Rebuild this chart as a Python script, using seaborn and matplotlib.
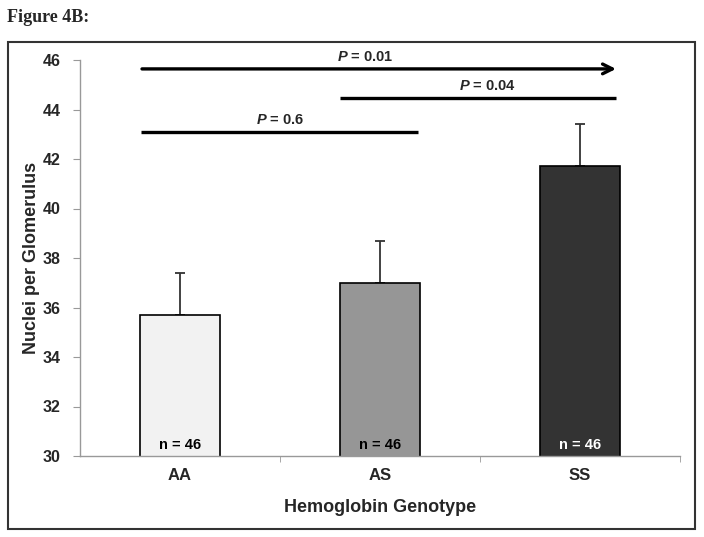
import matplotlib
matplotlib.use("Agg")
import matplotlib.pyplot as plt
import seaborn as sns
import pandas as pd
from matplotlib.patches import Rectangle

genotypes = ["AA", "AS", "SS"]
means = [35.7, 37.0, 41.7]
errors = [1.7, 1.7, 1.7]
n_labels = ["n = 46", "n = 46", "n = 46"]
bar_colors = ["#f2f2f2", "#969696", "#333333"]
n_text_colors = ["black", "black", "white"]
yticks = [30, 32, 34, 36, 38, 40, 42, 44, 46]
comparisons = [  # (start, end, y, label, label_x, arrow)
    (-0.19, 2.18, 45.64, "0.01", 0.925, True),
    (0.80, 2.18, 44.46, "0.04", 1.535, False),
    (-0.195, 1.19, 43.09, "0.6", 0.50, False),
]

sns.set_style("white")
plt.rcParams["font.family"] = ["Liberation Sans", "DejaVu Sans"]
plt.rcParams["mathtext.fontset"] = "custom"
plt.rcParams["mathtext.bfit"] = "Liberation Sans:bold:italic"
plt.rcParams["mathtext.bf"] = "Liberation Sans:bold"
plt.rcParams["mathtext.it"] = "Liberation Sans:italic"
plt.rcParams["mathtext.rm"] = "Liberation Sans"

df = pd.DataFrame({"Genotype": genotypes, "Mean": means})

fig = plt.figure(figsize=(7.04, 5.37), dpi=100)
ax = fig.add_axes([80 / 704, 1 - 456 / 537, 600 / 704, 396 / 537])

sns.barplot(data=df, x="Genotype", y="Mean", hue="Genotype", palette=bar_colors,
            order=genotypes, hue_order=genotypes, width=0.4, legend=False,
            edgecolor="black", linewidth=1.2, ax=ax, errorbar=None)

ax.errorbar(range(len(genotypes)), means, yerr=[[0] * 3, errors], fmt="none",
            ecolor="#333333", elinewidth=1.3, capsize=3.5, capthick=1.3, zorder=1)
for b in ax.patches:
    b.set_zorder(2)

ax.set_ylim(30, 46)
ax.set_xlim(-0.5, 2.5)
ax.set_yticks(yticks)
ax.set_yticklabels([str(t) for t in yticks], fontweight="bold", fontsize=11.5)
ax.set_xticks(range(3))
ax.set_xticklabels(genotypes, fontweight="bold", fontsize=12)
ax.set_xticks([0.5, 1.5, 2.5], minor=True)
ax.tick_params(axis="x", which="major", length=0, pad=9)
ax.tick_params(axis="x", which="minor", length=4, color="#999999", direction="out", bottom=True)
ax.tick_params(axis="y", length=5, color="#999999", direction="out", left=True, pad=9)
for s in ["top", "right"]:
    ax.spines[s].set_visible(False)
for s in ["left", "bottom"]:
    ax.spines[s].set_color("#999999")
    ax.spines[s].set_linewidth(1.0)

ax.set_ylabel("Nuclei per Glomerulus", fontweight="bold", fontsize=13)
ax.yaxis.set_label_coords(-40 / 600, 0.5)
ax.set_xlabel("Hemoglobin Genotype", fontweight="bold", fontsize=13)
ax.xaxis.set_label_coords(0.5, -43 / 396)

for i, (lab, c) in enumerate(zip(n_labels, n_text_colors)):
    ax.text(i, 30.15, lab, ha="center", va="bottom", fontweight="bold", fontsize=10.5, color=c)

for x0, x1, y, lab, lx, arrow in comparisons:
    if arrow:
        ax.annotate("", xy=(x1, y), xytext=(x0, y),
                    arrowprops=dict(arrowstyle="->,head_length=0.7,head_width=0.35",
                                    lw=2.4, color="black", shrinkA=0, shrinkB=0))
    else:
        ax.plot([x0, x1], [y, y], color="black", lw=2.4, solid_capstyle="butt")
    ax.text(lx, y + 0.2, r"$\mathbfit{P}$ = " + lab, ha="center", va="bottom",
            fontweight="bold", fontsize=10.5)

fig.add_artist(Rectangle((8 / 704, 1 - 529 / 537), 687 / 704, 487 / 537,
                         transform=fig.transFigure, fill=False, edgecolor="#333333", lw=1.5))
fig.text(7 / 704, 1 - 18 / 537, "Figure 4B:", fontweight="bold", fontsize=13,
         family=["Liberation Serif"], va="center", ha="left")

fig.savefig("out.png", dpi=100)
